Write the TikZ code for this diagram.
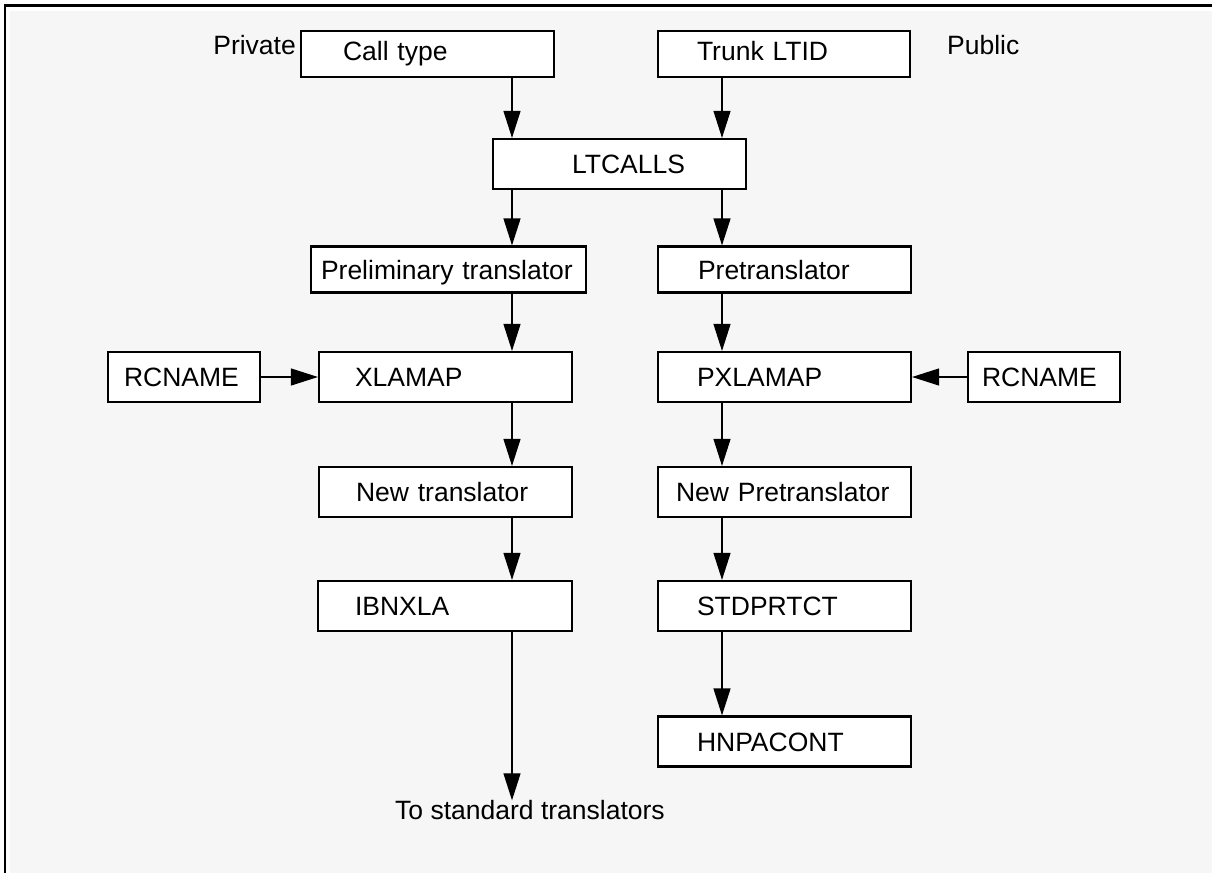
\documentclass[tikz,border=0pt]{standalone}
\usepackage{fontspec}
\setmainfont{Liberation Sans}
\usetikzlibrary{arrows.meta}
\definecolor{paper}{HTML}{F6F6F6}

\begin{document}
\begin{tikzpicture}[x=1pt,y=-1pt,
        font=\fontsize{26.5}{30}\selectfont,
        box/.style={draw, line width=2.2pt, fill=white, align=left, inner ysep=0pt,
                    minimum height=50pt, text height=19pt, text depth=0pt},
        lbl/.style={inner sep=0pt, text height=19pt, text depth=0pt},
        arr/.style={line width=1.2pt, -{Triangle[length=27pt,width=17pt]}}]
        \useasboundingbox (0,0) rectangle (1212,873);
        \fill[white] (0,0) rectangle (1212,873);
        \fill[paper] (10,11) rectangle (1212,873);
        \draw[line width=2.3pt] (5.2,873) -- (5.2,5.5) -- (1212,5.5);
        \coordinate (lcol) at (512,0);
        \coordinate (rcol) at (722,0);

        \node[lbl, anchor=east] (private) at (296,45) {Private};
        \node[lbl, anchor=west] (public) at (947,45) {Public};
        \node[box, minimum height=46pt, text depth=6pt, inner xsep=42pt, text width=169pt] (calltype) at (427.5,54) {Call type};
        \node[box, minimum height=46pt, text depth=6pt, inner xsep=39pt, text width=174pt] (trunk) at (784,54) {Trunk LTID};
        \node[box, inner xsep=61pt, text width=131pt, align=right] (ltcalls) at (619.5,164) {LTCALLS};

        \node[box, minimum height=46pt, inner xsep=10pt, text width=255pt] (prelim) at (448.5,269.5) {Preliminary translator};
        \node[box, minimum height=46pt, inner xsep=40pt, text width=173pt] (pretrans) at (784.5,269.5) {Pretranslator};
        \node[box, inner xsep=16pt, text width=120pt] (rcnamel) at (184,377) {RCNAME};
        \node[box, inner xsep=36pt, text width=181pt] (xlamap) at (445.5,377) {XLAMAP};
        \node[box, inner xsep=39pt, text width=175pt] (pxlamap) at (784.5,377) {PXLAMAP};
        \node[box, inner xsep=14pt, text width=124pt] (rcnamer) at (1044,377) {RCNAME};
        \node[box, inner xsep=37pt, text width=179pt] (newxla) at (445.5,492) {New translator};
        \node[box, inner xsep=18pt, text width=217pt] (newpre) at (784.5,492) {New Pretranslator};
        \node[box, inner xsep=37pt, text width=180pt] (ibnxla) at (445,606) {IBNXLA};
        \node[box, inner xsep=39pt, text width=175pt] (stdprtct) at (784.5,606) {STDPRTCT};
        \node[box, inner xsep=39pt, text width=175pt] (hnpacont) at (784.5,741.5) {HNPACONT};
        \node[lbl, anchor=west] (tostd) at (395,810) {To standard translators};

        \draw[arr] (calltype.south -| lcol) -- (ltcalls.north -| lcol);
        \draw[arr] (trunk.south -| rcol) -- (ltcalls.north -| rcol);
        \draw[arr] (ltcalls.south -| lcol) -- (prelim.north -| lcol);
        \draw[arr] (ltcalls.south -| rcol) -- (pretrans.north -| rcol);
        \draw[arr] (prelim.south -| lcol) -- (xlamap.north -| lcol);
        \draw[arr] (pretrans.south -| rcol) -- (pxlamap.north -| rcol);
        \draw[arr] (rcnamel) -- (xlamap);
        \draw[arr] (rcnamer) -- (pxlamap);
        \draw[arr] (xlamap.south -| lcol) -- (newxla.north -| lcol);
        \draw[arr] (pxlamap.south -| rcol) -- (newpre.north -| rcol);
        \draw[arr] (newxla.south -| lcol) -- (ibnxla.north -| lcol);
        \draw[arr] (newpre.south -| rcol) -- (stdprtct.north -| rcol);
        \draw[arr] (ibnxla.south -| lcol) -- (tostd.north -| lcol);
        \draw[arr] (stdprtct.south -| rcol) -- (hnpacont.north -| rcol);
\end{tikzpicture}
\end{document}
